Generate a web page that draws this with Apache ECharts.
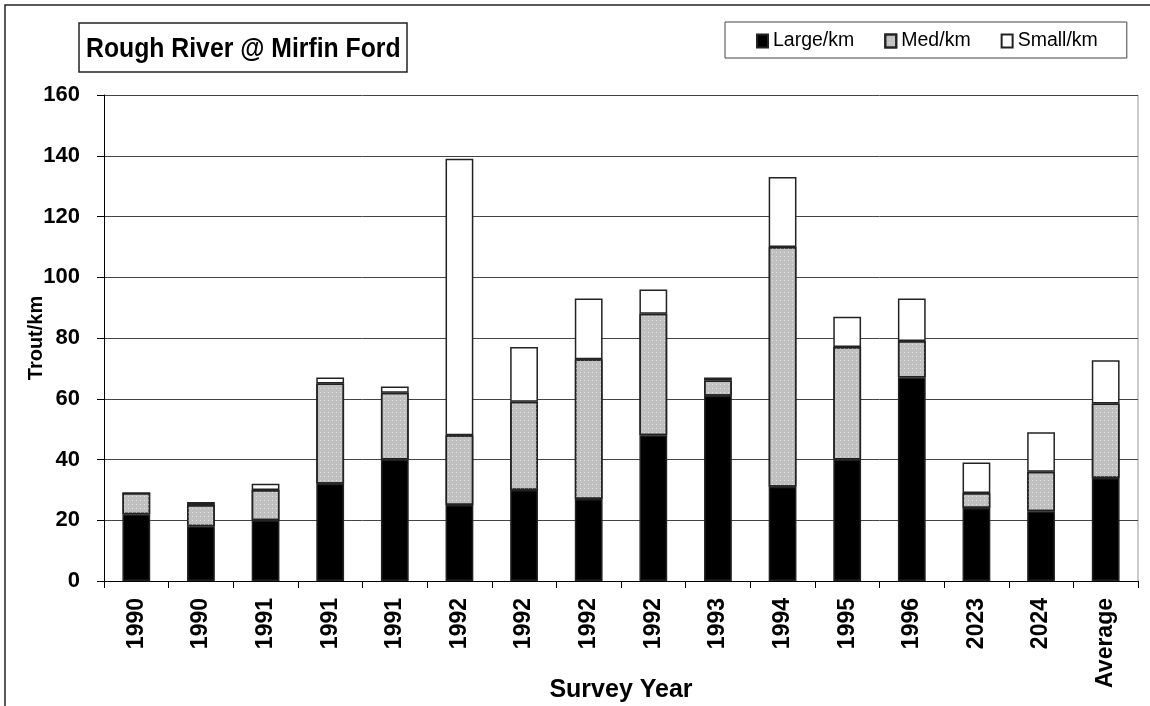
<!DOCTYPE html>
<html>
<head>
<meta charset="utf-8">
<script src="https://cdn.jsdelivr.net/npm/echarts@6/dist/echarts.min.js"></script>
<style>
html,body{margin:0;padding:0;background:#fff;}
#c{width:1150px;height:706px;}
</style>
</head>
<body>
<div id="c"></div>
<script>
const categories = ['1990','1990','1991','1991','1991','1992','1992','1992','1992','1993','1994','1995','1996','2023','2024','Average'];
const largeKm = [22,18,20,32,40,25,30,27,48,61,31,40,67,24,23,33.9];
const medKm   = [7,7,10,33,22,23,29,46,40,5,79,37,12,5,13,24.5];
const smallKm = [0,1,2,2,2,91,18,20,8,1,23,10,14,10,13,14.3];
const yTicks = {min:0, max:160, interval:20};
const titleText = 'Rough River @ Mirfin Ford';
const seriesNames = ['Large/km','Med/km','Small/km'];

const FONT = 'Liberation Sans, Arial, sans-serif';
const chart = echarts.init(document.getElementById('c'), null, {renderer:'canvas'});
const border = {borderColor:'#222', borderWidth:1.5};
chart.setOption({
  animation:false,
  backgroundColor:'#fff',
  graphic:[
    {type:'polyline', shape:{points:[[5,706],[5,5],[1150,5]]}, style:{stroke:'#222', lineWidth:1.5, fill:null}},
    {type:'rect', shape:{x:79, y:23, width:328, height:49}, style:{fill:'#fff', stroke:'#222', lineWidth:1.5}, z:10},
    {type:'text', x:86, y:49, scaleX:0.885, style:{text:titleText, font:'bold 28px '+FONT, fill:'#000', textVerticalAlign:'middle'}, z:11},
    {type:'line', shape:{x1:1138, y1:95, x2:1138, y2:581}, style:{stroke:'#999', lineWidth:1}}
  ],
  legend:{
    data:seriesNames,
    left:725, top:22,
    padding:[9,29,7,31],
    itemGap:30, itemWidth:11, itemHeight:13,
    icon:'rect',
    borderColor:'#444', borderWidth:1, backgroundColor:'#fff',
    textStyle:{fontFamily:FONT, fontSize:19.5, color:'#000', padding:[0,0,0,0]}
  },
  grid:{left:104, right:12, top:95, bottom:125, containLabel:false, outerBoundsMode:'none'},
  xAxis:{
    type:'category', data:categories,
    axisLine:{lineStyle:{color:'#000', width:1}},
    axisTick:{show:true, alignWithLabel:false, length:7, lineStyle:{color:'#000'}},
    axisLabel:{rotate:90, margin:17, fontFamily:FONT, fontWeight:'bold', fontSize:23, color:'#000', interval:0},
    name:'Survey Year', nameLocation:'middle', nameGap:97, nameMoveOverlap:false,
    nameTextStyle:{fontFamily:FONT, fontWeight:'bold', fontSize:25, color:'#000'}
  },
  yAxis:{
    type:'value', min:yTicks.min, max:yTicks.max, interval:yTicks.interval,
    axisLine:{show:true, lineStyle:{color:'#000', width:1}},
    axisTick:{show:true, length:7, lineStyle:{color:'#000'}},
    axisLabel:{margin:24, fontFamily:FONT, fontWeight:'bold', fontSize:22, color:'#000'},
    splitLine:{show:true, lineStyle:{color:'#444', width:1}},
    name:'Trout/km', nameLocation:'middle', nameGap:58, nameMoveOverlap:false,
    nameTextStyle:{fontFamily:FONT, fontWeight:'bold', fontSize:20, color:'#000'}
  },
  series:[
    {name:seriesNames[0], type:'bar', stack:'t', data:largeKm, barWidth:'43%',
     itemStyle:Object.assign({color:'#000'}, border)},
    {name:seriesNames[1], type:'bar', stack:'t', data:medKm,
     itemStyle:Object.assign({color:'#c0c0c0',
       decal:{symbol:'rect', symbolSize:1, color:'#e4e4e4', dashArrayX:[1,3], dashArrayY:[1,3], rotation:0}}, border)},
    {name:seriesNames[2], type:'bar', stack:'t', data:smallKm,
     itemStyle:Object.assign({color:'#fff'}, border)}
  ]
});
</script>
</body>
</html>
